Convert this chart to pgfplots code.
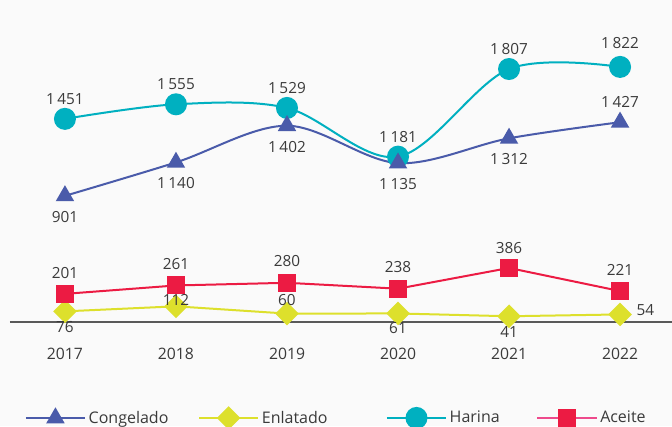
\documentclass[border=0pt]{standalone}
\usepackage{pgfplots}
\pgfplotsset{compat=1.18}
\usepackage{pgfplotstable}
\usepackage{fontspec}
\setmainfont{Open Sans}
\usetikzlibrary{backgrounds}
\definecolor{cong}{HTML}{4A5BAA}
\definecolor{enla}{HTML}{DDE02C}
\definecolor{hari}{HTML}{00B0C0}
\definecolor{acei}{HTML}{EC1B43}
\definecolor{aceileg}{HTML}{EE4A8C}
\definecolor{txt}{HTML}{3A3A3A}
\definecolor{bg}{HTML}{FAFAFA}

\pgfplotstableread{
x y dx dy
0 901 0 -15.75
1 1140 0 -15.75
2 1402 0 -15.75
3 1135 0 -15.75
4 1312 0 -15.75
5 1427 0 15
}\congelado
\pgfplotstableread{
x y dx dy
0 76 0 -12
1 112 0 5
2 60 0 10.5
3 61 0 -11
4 41 0 -12
5 54 19 3
}\enlatado
\pgfplotstableread{
x y dx dy
0 1451 0 15
1 1555 0 15
2 1529 0 15
3 1181 0 15
4 1807 0 15
5 1822 0 18
}\harina
\pgfplotstableread{
x y dx dy
0 201 0 16
1 261 0 16
2 280 0 16
3 238 0 16
4 386 0 15
5 221 0 16
}\aceite

\begin{document}
\begin{tikzpicture}
\begin{axis}[
  width=496.5pt, height=241.5pt, scale only axis,
  xmin=-0.495, xmax=5.468, ymin=0, ymax=2300,
  axis x line=bottom, axis y line=none,
  x axis line style={-, draw=black!65, line width=0.8pt},
  xtick={0,...,5}, xticklabels={2017,2018,2019,2020,2021,2022},
  major tick length=0pt, ytick=\empty,
  xticklabel style={font=\fontsize{11.8}{13}\selectfont, text=txt, yshift=-16pt},
  clip=false,
  point meta=explicit,
  visualization depends on={\thisrow{dx} \as \lx},
  visualization depends on={\thisrow{dy} \as \ly},
  nodes near coords={\pgfmathprintnumber[assume math mode=true, 1000 sep={\,}]{\pgfplotspointmeta}},
  every node near coord/.append style={anchor=center, inner sep=0pt, xshift=\lx pt, yshift=\ly pt, font=\fontsize{11.5}{13}\selectfont, text=txt},
  legend columns=4,
  legend style={at={(0.016,-0.298)}, anchor=west, draw=none, fill=none, font=\fontsize{12}{14}\selectfont, text=txt, /tikz/every even column/.append style={column sep=0pt}},
  legend cell align=left,
  legend image code/.code={\draw[mark repeat=2,mark phase=2] plot coordinates {(0cm,0cm) (0.78cm,0cm) (1.56cm,0cm)};},
]
\addplot[enla, line width=1.5pt, mark=square*, mark size=5.5pt, mark options={rotate=45, solid}, forget plot] table[x=x, y=y, meta=y] {\enlatado};
\addplot[acei, line width=1.5pt, mark=square*, mark size=6pt, forget plot] table[x=x, y=y, meta=y] {\aceite};
\addplot[hari, line width=1.5pt, smooth, tension=0.55, mark=*, mark size=7.5pt, forget plot] table[x=x, y=y, meta=y] {\harina};
\addplot[cong, line width=1.5pt, smooth, tension=0.55, mark=triangle*, mark size=6.5pt, forget plot] table[x=x, y=y, meta=y] {\congelado};

\addlegendimage{cong, line width=1.5pt, mark=triangle*, mark size=6.5pt}
\addlegendentry{\makebox[80pt][l]{Congelado}}
\addlegendimage{enla, line width=1.5pt, mark=square*, mark size=5.5pt, mark options={rotate=45}}
\addlegendentry{\makebox[91pt][l]{Enlatado}}
\addlegendimage{hari, line width=1.5pt, mark=*, mark size=7.5pt}
\addlegendentry{\makebox[63pt][l]{Harina}}
\addlegendimage{aceileg, line width=1.5pt, mark=square*, mark size=6pt, mark options={acei}}
\addlegendentry{Aceite}

\coordinate (bbsw) at (rel axis cs:-0.0151,-0.323);
\coordinate (bbne) at (rel axis cs:1,1);
\end{axis}
\begin{pgfonlayer}{background}
\fill[bg] (bbsw) rectangle (bbne);
\end{pgfonlayer}
\pgfresetboundingbox
\path[use as bounding box] (bbsw) rectangle (bbne);
\end{tikzpicture}
\end{document}
